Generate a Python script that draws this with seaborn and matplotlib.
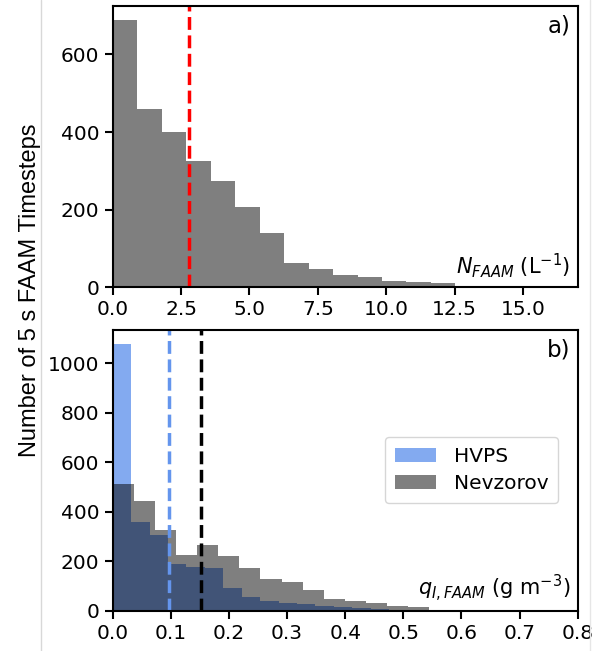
import numpy as np
import pandas as pd
import matplotlib
matplotlib.use("Agg")
import matplotlib.pyplot as plt
import seaborn as sns
from matplotlib.lines import Line2D

sns.set_style("ticks")
plt.rcParams["text.color"] = "black"

# panel a) - FAAM number concentration histogram (L^-1)
n_bin_start = 0.0
n_bin_width = 0.895
n_counts = [690, 459, 400, 326, 274, 207, 140, 62, 48, 31, 27, 15, 13, 12]
n_mean = 2.78

# panel b) - ice water content histograms (g m^-3)
hvps_bin_width = 0.0317
hvps_counts = [1078, 360, 306, 187, 178, 171, 90, 57, 40, 32, 26, 20, 14, 10, 6, 3]
hvps_mean = 0.0976

nev_bin_width = 0.0363
nev_counts = [513, 443, 324, 225, 265, 221, 174, 128, 115, 84, 46, 39, 30, 19, 14]
nev_mean = 0.1517

top_xticks = [0.0, 2.5, 5.0, 7.5, 10.0, 12.5, 15.0]
bot_xticks = [0.0, 0.1, 0.2, 0.3, 0.4, 0.5, 0.6, 0.7, 0.8]


def hist_from_counts(ax, start, width, counts, **kw):
    nb = len(counts)
    edges = start + width * np.arange(nb + 1)
    df = pd.DataFrame({"x": (edges[:-1] + edges[1:]) / 2, "n": counts})
    sns.histplot(data=df, x="x", weights="n", bins=nb, binrange=(edges[0], edges[-1]),
                 ax=ax, element="bars", linewidth=0, **kw)


fig = plt.figure(figsize=(5.97, 6.51), dpi=100)
ax1 = fig.add_axes([0.1888, 0.5587, 0.7789, 0.4321])
ax2 = fig.add_axes([0.1888, 0.0619, 0.7789, 0.4312])

# a)
hist_from_counts(ax1, n_bin_start, n_bin_width, n_counts, color="black", alpha=0.5)
ax1.axvline(n_mean, color="red", ls="--", lw=2.5)
ax1.set_xlim(0, 17)
ax1.set_ylim(0, 725)
ax1.set_xticks(top_xticks)
ax1.set_yticks([0, 200, 400, 600])
ax1.text(0.985, 0.97, "a)", transform=ax1.transAxes, ha="right", va="top", fontsize=16.5)
ax1.text(0.985, 0.025, r"$N_{FAAM}$ (L$^{-1}$)", transform=ax1.transAxes,
         ha="right", va="bottom", fontsize=15)

# b)
hist_from_counts(ax2, 0.0, hvps_bin_width, hvps_counts, color="cornflowerblue", alpha=0.8,
                 label="HVPS")
hist_from_counts(ax2, 0.0, nev_bin_width, nev_counts, color="black", alpha=0.5,
                 label="Nevzorov")
ax2.axvline(hvps_mean, color="cornflowerblue", ls="--", lw=2.5)
ax2.axvline(nev_mean, color="black", ls="--", lw=2.5)
ax2.set_xlim(0, 0.8)
ax2.set_ylim(0, 1134)
ax2.set_xticks(bot_xticks)
ax2.set_yticks([0, 200, 400, 600, 800, 1000])
ax2.text(0.985, 0.97, "b)", transform=ax2.transAxes, ha="right", va="top", fontsize=16.5)
ax2.text(0.985, 0.025, r"$q_{I,FAAM}$ (g m$^{-3}$)", transform=ax2.transAxes,
         ha="right", va="bottom", fontsize=15)
ax2.legend(loc="center right", bbox_to_anchor=(0.98, 0.5), fontsize=14.5,
           handlelength=2.0, borderpad=0.5, labelspacing=0.4, handletextpad=0.9)

for ax in (ax1, ax2):
    ax.set_xlabel("")
    ax.set_ylabel("")
    for s in ax.spines.values():
        s.set_visible(True)
        s.set_color("black")
        s.set_linewidth(1.5)
    ax.tick_params(direction="out", length=6, width=1.5, labelsize=14.5, colors="black")

fig.text(30 / 597, 1 - 290 / 651, "Number of 5 s FAAM Timesteps", rotation=90,
         ha="center", va="center", fontsize=17, family="Liberation Sans")

# faint page edges from the original screenshot
fig.add_artist(Line2D([41 / 597, 41 / 597], [0, 1], color="#d8d8d8", lw=1))
fig.add_artist(Line2D([590 / 597, 590 / 597], [0, 1], color="#e6e6e6", lw=1))

fig.savefig("out.png", dpi=100)
